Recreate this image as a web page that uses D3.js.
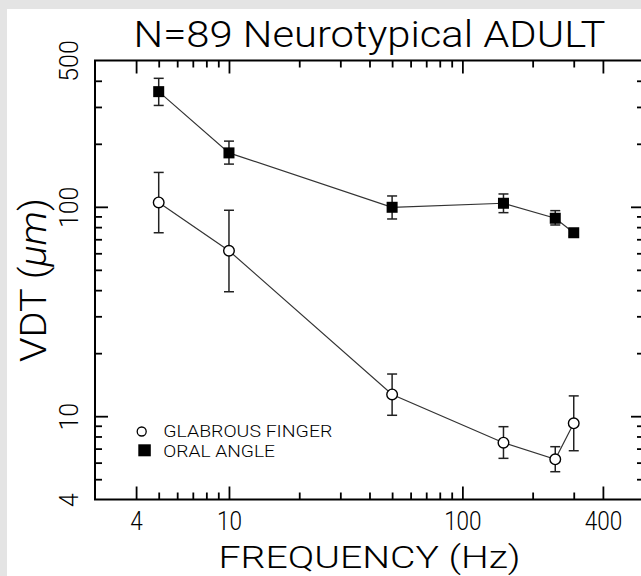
<!DOCTYPE html>
<html>
<head>
<meta charset="utf-8">
<script src="https://cdn.jsdelivr.net/npm/d3@7"></script>
<style>
  body { margin: 0; background: #e4e4e4; }
  svg { display: block; }
  text { font-family: Roboto, "DejaVu Sans", sans-serif; font-weight: 300; fill: #000; }
</style>
</head>
<body>
<div id="chart"></div>
<script>
// vibration detection threshold, two skin sites
var freqs      = [5, 10, 50, 150, 250, 300];
var oralMean   = [355, 181, 99.5, 104, 88.2, 75.2];
var oralLow    = [305, 160, 87.5, 93.8, 81.9, 72.5];
var oralHigh   = [411, 206, 112.7, 115.2, 95.9, 78];
var fingerMean = [105, 61.7, 12.7, 7.47, 6.22, 9.25];
var fingerLow  = [75.2, 39.3, 10.1, 6.29, 5.43, 6.84];
var fingerHigh = [146, 96.3, 15.9, 8.91, 7.15, 12.5];

var seriesNames = ["GLABROUS FINGER", "ORAL ANGLE"];

var xMajor = [4, 10, 100, 400];
var xMinor = [5, 6, 7, 8, 9, 20, 30, 40, 50, 60, 70, 80, 90, 200, 300];
var yLabels = [4, 10, 100, 500];
var yMajor = [10, 100];
var yMinor = [5, 6, 7, 8, 9, 20, 30, 40, 50, 60, 70, 80, 90, 200, 300, 400];

var W = 641, H = 576;
// note: "top" is taken by window.top, so plot edges get a prefix
var pL = 95, pR = 644, pT = 60.5, pB = 499.5;

var x = d3.scaleLog().domain([2.667, 600]).range([pL, pR]);
var y = d3.scaleLog().domain([4, 500]).range([pB, pT]);

var svg = d3.select("#chart").append("svg")
  .attr("width", W).attr("height", H);

svg.append("rect")
  .attr("x", 7).attr("y", 9)
  .attr("width", W - 7).attr("height", H - 9)
  .attr("fill", "#fff");

// axes, ticks pointing inward on all four sides
function tickAxis(axis, pos, values, size) {
  var g = svg.append("g")
    .attr("transform", pos)
    .call(axis.tickValues(values).tickSizeInner(-size).tickSizeOuter(0).tickFormat(""));
  g.select(".domain").remove();
  g.selectAll(".tick line").attr("stroke", "#000").attr("stroke-width", 1.8);
  return g;
}

tickAxis(d3.axisBottom(x), `translate(0,${pB})`, xMajor, 13);
tickAxis(d3.axisBottom(x), `translate(0,${pB})`, xMinor, 7);
tickAxis(d3.axisTop(x), `translate(0,${pT})`, xMajor, 13);
tickAxis(d3.axisTop(x), `translate(0,${pT})`, xMinor, 7);
tickAxis(d3.axisLeft(y), `translate(${pL},0)`, yMajor, 13);
tickAxis(d3.axisLeft(y), `translate(${pL},0)`, yMinor, 7);
tickAxis(d3.axisRight(y), `translate(${pR},0)`, yMajor, 13);
tickAxis(d3.axisRight(y), `translate(${pR},0)`, yMinor, 7);

svg.append("rect")
  .attr("x", pL).attr("y", pT)
  .attr("width", pR - pL).attr("height", pB - pT)
  .attr("fill", "none").attr("stroke", "#000").attr("stroke-width", 2);

// tick labels
var xl = svg.append("g")
  .attr("transform", `translate(0,${pB})`)
  .call(d3.axisBottom(x).tickValues(xMajor).tickSize(0).tickPadding(0).tickFormat(d3.format("d")));
xl.select(".domain").remove();
xl.selectAll(".tick text")
  .attr("y", 30.5).attr("dy", null)
  .style("font-size", "25px")
  .attr("textLength", d => String(d).length * 12.5)
  .attr("lengthAdjust", "spacingAndGlyphs");

var yl = svg.append("g")
  .attr("transform", `translate(${pL},0)`)
  .call(d3.axisLeft(y).tickValues(yLabels).tickSize(0).tickFormat(d3.format("d")));
yl.select(".domain").remove();
yl.selectAll(".tick text")
  .attr("x", null).attr("dy", null)
  .attr("text-anchor", "middle")
  .attr("transform", "translate(-17,0) rotate(-90)")
  .style("font-size", "26px")
  .attr("textLength", d => String(d).length * 13.8)
  .attr("lengthAdjust", "spacingAndGlyphs");

// titles
svg.append("text")
  .attr("x", (pL + pR) / 2).attr("y", 46.7)
  .attr("text-anchor", "middle")
  .style("font-size", "36px")
  .attr("textLength", 472).attr("lengthAdjust", "spacingAndGlyphs")
  .text("N=89 Neurotypical ADULT");

svg.append("text")
  .attr("x", (pL + pR) / 2).attr("y", 568)
  .attr("text-anchor", "middle")
  .style("font-size", "32px")
  .attr("textLength", 302).attr("lengthAdjust", "spacingAndGlyphs")
  .text("FREQUENCY (Hz)");

var yt = svg.append("text")
  .attr("transform", `translate(46,${(pT + pB) / 2}) rotate(-90)`)
  .attr("text-anchor", "middle")
  .style("font-size", "36px")
  .attr("textLength", 164).attr("lengthAdjust", "spacingAndGlyphs");
yt.append("tspan").text("VDT (");
yt.append("tspan").style("font-style", "italic").text("\u03bcm");
yt.append("tspan").text(")");

// data
var finger = freqs.map((f, i) => ({f: f, v: fingerMean[i], lo: fingerLow[i], hi: fingerHigh[i]}));
var oral = freqs.map((f, i) => ({f: f, v: oralMean[i], lo: oralLow[i], hi: oralHigh[i]}));

var line = d3.line().x(d => x(d.f)).y(d => y(d.v));

function errorBars(data) {
  var g = svg.append("g").attr("stroke", "#222").attr("stroke-width", 1.5).attr("fill", "none");
  g.selectAll(".v").data(data).join("line").attr("class", "v")
    .attr("x1", d => x(d.f)).attr("x2", d => x(d.f))
    .attr("y1", d => y(d.lo)).attr("y2", d => y(d.hi));
  g.selectAll(".t").data(data).join("line").attr("class", "t")
    .attr("x1", d => x(d.f) - 5).attr("x2", d => x(d.f) + 5)
    .attr("y1", d => y(d.hi)).attr("y2", d => y(d.hi));
  g.selectAll(".b").data(data).join("line").attr("class", "b")
    .attr("x1", d => x(d.f) - 5).attr("x2", d => x(d.f) + 5)
    .attr("y1", d => y(d.lo)).attr("y2", d => y(d.lo));
}

[finger, oral].forEach(s => {
  svg.append("path").datum(s)
    .attr("d", line)
    .attr("fill", "none").attr("stroke", "#333").attr("stroke-width", 1.2);
  errorBars(s);
});

svg.append("g").selectAll("circle").data(finger).join("circle")
  .attr("cx", d => x(d.f)).attr("cy", d => y(d.v)).attr("r", 5.3)
  .attr("fill", "#fff").attr("stroke", "#000").attr("stroke-width", 1.4);

svg.append("g").selectAll("rect").data(oral).join("rect")
  .attr("x", d => x(d.f) - 5.5).attr("y", d => y(d.v) - 5.5)
  .attr("width", 11).attr("height", 11)
  .attr("fill", "#000");

// legend
var legend = svg.append("g");
legend.append("circle")
  .attr("cx", 141.7).attr("cy", 431.5).attr("r", 4.5)
  .attr("fill", "#fff").attr("stroke", "#000").attr("stroke-width", 1.3);
legend.append("rect")
  .attr("x", 138.3).attr("y", 444.3).attr("width", 12.5).attr("height", 12)
  .attr("fill", "#000");
legend.selectAll("text").data(seriesNames).join("text")
  .attr("x", 163.3).attr("y", (d, i) => 436.7 + i * 20)
  .style("font-size", "16px")
  .attr("textLength", (d, i) => i ? 111.7 : 169)
  .attr("lengthAdjust", "spacingAndGlyphs")
  .text(d => d);
</script>
</body>
</html>
